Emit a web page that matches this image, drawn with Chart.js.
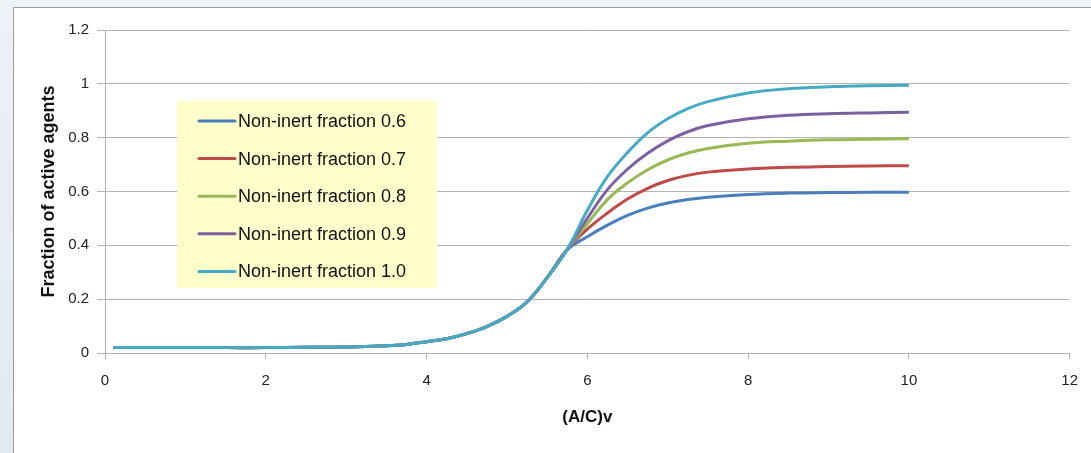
<!DOCTYPE html>
<html>
<head>
<meta charset="utf-8">
<title>Fraction of active agents</title>
<script src="https://cdn.jsdelivr.net/npm/chart.js@4.4.1/dist/chart.umd.min.js"></script>
<style>
  html, body { margin: 0; padding: 0; }
  body {
    width: 1091px; height: 453px; overflow: hidden; position: relative;
    background: linear-gradient(180deg, #eef1f5 0%, #e3e9f1 100%);
  }
  #sheet {
    position: absolute; left: 13px; top: 7px; width: 1100px; height: 460px;
    background: #fff; border-left: 1px solid #9c9c9c; border-top: 1px solid #9c9c9c;
  }
  #wrap { position: absolute; left: 0; top: 0; width: 1091px; height: 453px; }
</style>
</head>
<body>
<div id="sheet"></div>
<div id="wrap"><canvas id="agentsChart" width="1091" height="453"></canvas></div>
<script>
// x positions of the samples, (A/C)v
const xValues = [0.1, 0.5, 1, 1.5, 2, 2.5, 3, 3.5, 3.75, 4, 4.25, 4.5, 4.75, 5, 5.25, 5.5,
                 5.75, 6, 6.25, 6.5, 6.75, 7, 7.25, 7.5, 8, 8.5, 9, 9.5, 10];

// all curves coincide up to x = 5.5
const sharedRise = [0.02, 0.02, 0.02, 0.02, 0.02, 0.021, 0.022, 0.027, 0.032, 0.042, 0.053, 0.072, 0.098, 0.136, 0.19, 0.28];

// from x = 5.75 on, each non-inert fraction levels off at its own value
const tail06 = [0.383, 0.432, 0.475, 0.511, 0.538, 0.557, 0.57, 0.579, 0.589, 0.594, 0.596, 0.597, 0.597];
const tail07 = [0.385, 0.46, 0.52, 0.572, 0.612, 0.641, 0.66, 0.672, 0.684, 0.69, 0.693, 0.695, 0.696];
const tail08 = [0.385, 0.48, 0.57, 0.632, 0.681, 0.717, 0.743, 0.76, 0.779, 0.787, 0.792, 0.794, 0.796];
const tail09 = [0.385, 0.5, 0.607, 0.683, 0.742, 0.788, 0.822, 0.845, 0.87, 0.883, 0.889, 0.892, 0.894];
const tail10 = [0.385, 0.53, 0.655, 0.745, 0.818, 0.87, 0.908, 0.934, 0.966, 0.982, 0.989, 0.993, 0.995];

const seriesNames = ['Non-inert fraction 0.6', 'Non-inert fraction 0.7', 'Non-inert fraction 0.8',
                     'Non-inert fraction 0.9', 'Non-inert fraction 1.0'];
const seriesTails = [tail06, tail07, tail08, tail09, tail10];
const seriesColors = ['#4a7ebb', '#be4b48', '#98b954', '#7d60a0', '#46aac5'];

const FONT = "'Liberation Sans', Arial, sans-serif";
const GRID = '#b4b4b4';

// legend box sitting inside the plot, like the spreadsheet original
const boxLegend = {
  id: 'boxLegend',
  afterDatasetsDraw(chart) {
    const ctx = chart.ctx;
    const x0 = 177, y0 = 101, w = 260, h = 187;
    ctx.save();
    ctx.fillStyle = '#ffffcc';
    ctx.fillRect(x0, y0, w, h);
    ctx.font = '18px ' + FONT;
    ctx.textBaseline = 'middle';
    chart.data.datasets.forEach((ds, i) => {
      const cy = y0 + 20 + i * 37.6;
      ctx.strokeStyle = ds.borderColor;
      ctx.lineWidth = 3;
      ctx.lineCap = 'round';
      ctx.beginPath();
      ctx.moveTo(199, cy);
      ctx.lineTo(235, cy);
      ctx.stroke();
      ctx.fillStyle = '#111';
      ctx.fillText(ds.label, 238, cy + 1);
    });
    ctx.restore();
  }
};

new Chart(document.getElementById('agentsChart').getContext('2d'), {
  type: 'line',
  data: {
    datasets: seriesTails.map((tail, i) => {
      const vals = sharedRise.concat(tail);
      return {
        label: seriesNames[i],
        data: xValues.map((x, j) => ({ x: x, y: vals[j] })),
        borderColor: seriesColors[i],
        backgroundColor: seriesColors[i],
        borderWidth: 3,
        pointRadius: 0,
        tension: 0.4,
        order: seriesTails.length - i   // 1.0 curve drawn on top
      };
    })
  },
  options: {
    responsive: false,
    animation: false,
    layout: { padding: { left: 36, top: 30, right: 20, bottom: 0 } },
    plugins: { legend: { display: false }, tooltip: { enabled: false } },
    scales: {
      x: {
        type: 'linear',
        min: 0, max: 12,
        afterFit(scale) { scale.height = 100; },
        ticks: { stepSize: 2, padding: 13, color: '#222', font: { family: FONT, size: 15 } },
        grid: { drawOnChartArea: false, drawTicks: true, tickLength: 6, color: GRID },
        border: { color: GRID },
        title: {
          display: true, text: '(A/C)v', color: '#111',
          font: { family: FONT, size: 17, weight: 'bold' },
          padding: { top: 0, bottom: 25 }
        }
      },
      y: {
        min: 0, max: 1.2,
        afterFit(scale) { scale.width = 69; },
        ticks: {
          stepSize: 0.2, padding: 8, color: '#222', font: { family: FONT, size: 15 },
          callback: v => String(Number(v.toFixed(1)))
        },
        grid: { drawTicks: true, tickLength: 8, color: GRID },
        border: { color: GRID },
        title: {
          display: true, text: 'Fraction of active agents', color: '#111',
          font: { family: FONT, size: 18, weight: 'bold' },
          padding: { top: 2, bottom: 4 }
        }
      }
    }
  },
  plugins: [boxLegend]
});
</script>
</body>
</html>
